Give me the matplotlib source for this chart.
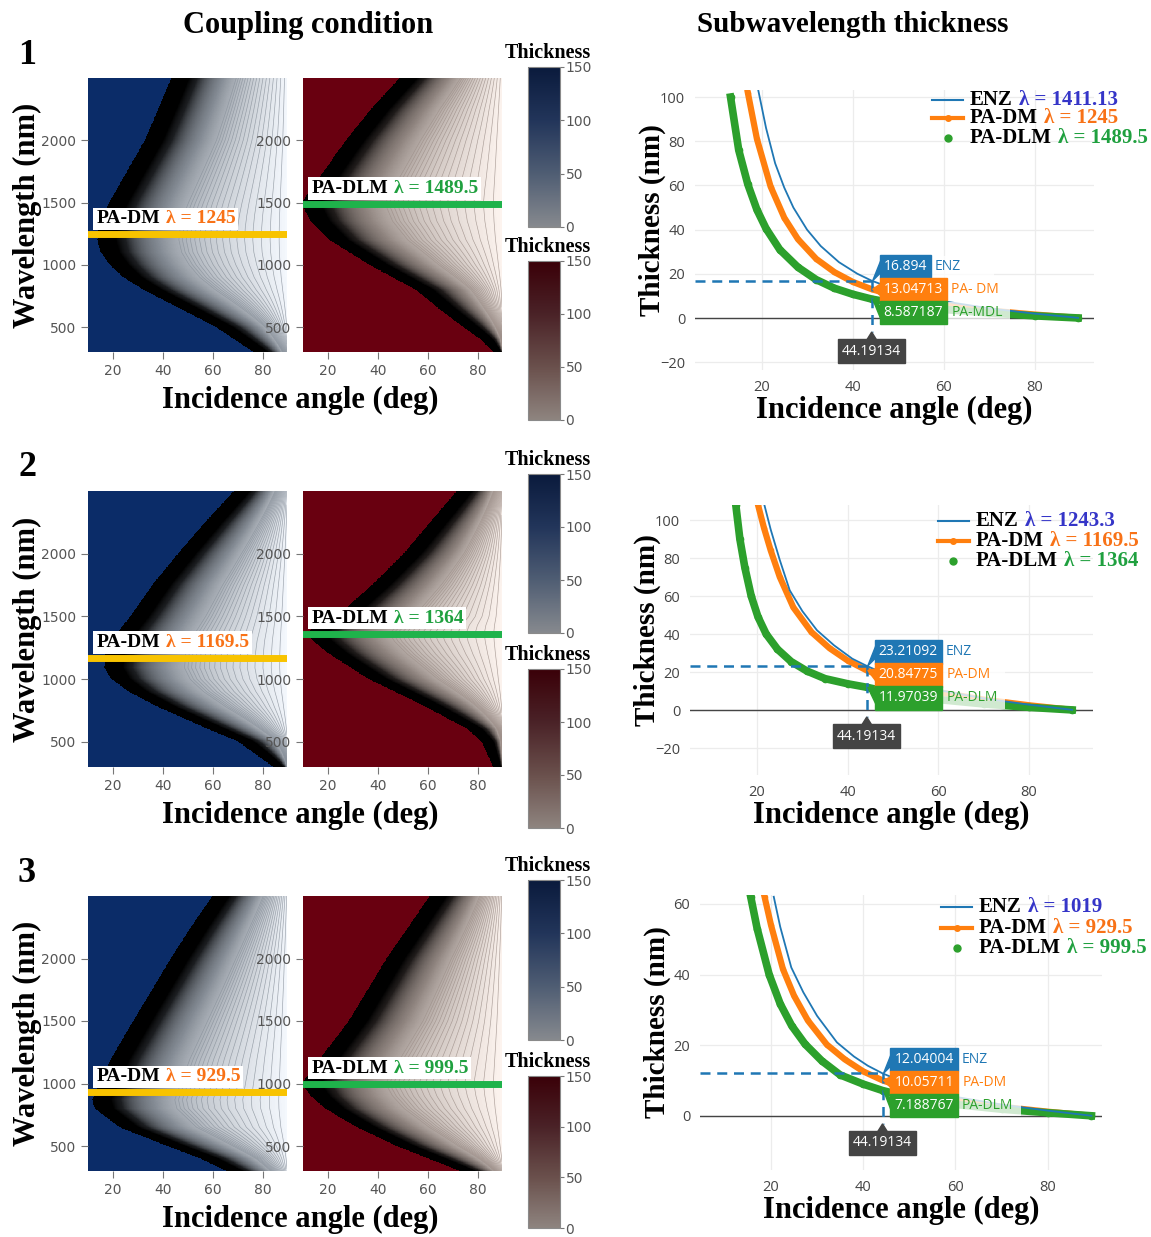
import numpy as np
import matplotlib
matplotlib.use("Agg")
import matplotlib.pyplot as plt
from matplotlib import cm
from matplotlib.colors import LinearSegmentedColormap, Normalize
from matplotlib.lines import Line2D
from matplotlib.patches import Polygon, Rectangle
from matplotlib.transforms import IdentityTransform
from matplotlib.offsetbox import TextArea, HPacker, AnnotationBbox

W, H = 1151, 1237
SERIF = "Liberation Serif"
SANS = "DejaVu Sans"
PSANS = "Open Sans"

# ---------------- data ----------------
enz_lam = [1411.13, 1243.3, 1019]
dm_lam = [1245, 1169.5, 929.5]
dlm_lam = [1489.5, 1364, 999.5]

cross_angle = 44.19134
enz_at = [16.894, 23.21092, 12.04004]
dm_at = [13.04713, 20.84775, 10.05711]
dlm_at = [8.587187, 11.97039, 7.188767]
dm_tag = ["PA- DM", "PA-DM", "PA-DM"]
dlm_tag = ["PA-MDL", "PA-DLM", "PA-DLM"]

# edge of the coupling region on the maps: wavelength (nm) -> angle (deg)
dm_edge_lam1 = [300, 400, 500, 650, 800, 900, 1000, 1100, 1200, 1300, 1400, 1500, 1750, 2000, 2250, 2500]
dm_edge_ang1 = [76, 68.5, 61, 46.5, 32, 24, 18.7, 15, 13.6, 14.3, 16, 18.4, 25.5, 32.6, 38, 43.2]
dlm_edge_lam1 = [300, 400, 500, 650, 800, 1000, 1200, 1350, 1489.5, 1600, 1700, 2000, 2250, 2500]
dlm_edge_ang1 = [86, 81, 74, 64, 55, 36.5, 20.5, 13, 9.3, 12.5, 16.4, 27, 37, 48.5]
dm_edge_lam2 = [300, 500, 600, 775, 900, 1000, 1090, 1200, 1305, 1500, 1750, 2000, 2250, 2500]
dm_edge_ang2 = [84, 70, 58, 38, 26, 19.2, 16.4, 17, 19.2, 27, 35.8, 46.1, 57, 68.6]
dlm_edge_lam2 = [300, 500, 600, 800, 1000, 1200, 1300, 1364, 1430, 1500, 1750, 2000, 2250, 2500]
dlm_edge_ang2 = [86, 81.4, 75.8, 56.8, 36, 20.3, 14, 11.5, 15.5, 23.5, 37.7, 50.4, 61, 71.7]
dm_edge_lam3 = [300, 400, 500, 650, 800, 870, 1000, 1200, 1500, 2000, 2250, 2500]
dm_edge_ang3 = [65, 54.8, 41.4, 22.4, 12.6, 11.6, 14.5, 19.2, 28, 43, 51, 59.6]
dlm_edge_lam3 = [300, 400, 500, 650, 800, 900, 999.5, 1100, 1250, 1500, 2000, 2500]
dlm_edge_ang3 = [72.5, 59.9, 47.2, 31.4, 18.7, 13, 9.5, 13, 18.7, 28.2, 43.3, 60.6]

# thickness vs incidence angle curves
enz_ang1 = [19.3, 21, 23, 25, 27, 30, 33, 37, 41, 44.19134, 50, 60, 70, 80, 89.5]
enz_thk1 = [103, 86, 70, 59, 50, 40, 32.6, 25.3, 20.1, 16.894, 12.5, 7.6, 4.4, 2.0, 0.1]
dm_ang1 = [17, 19, 22, 25, 28, 32, 36, 40, 44.19134, 50, 60, 70, 80, 89.5]
dm_thk1 = [102, 81, 59.5, 45.4, 35.7, 26.8, 20.8, 16.4, 13.04713, 9.7, 5.9, 3.4, 1.6, 0.1]
dlm_ang1 = [13.2, 15, 17, 19, 21, 24, 28, 32, 36, 40, 44.19134, 50, 60, 70, 80, 89.5]
dlm_thk1 = [100, 76, 60.5, 49, 40.5, 31, 23, 17.4, 13.5, 10.8, 8.587187, 6.4, 3.9, 2.3, 1.0, 0.05]

enz_ang2 = [21.6, 23, 25, 27.2, 30, 33.2, 37, 41, 44.19134, 50, 60, 70, 80, 89.5]
enz_thk2 = [108, 95, 79, 63, 52, 42, 34, 27, 23.21092, 17.2, 10.5, 6.1, 2.8, 0.1]
dm_ang2 = [20.2, 21.5, 23, 25, 28, 32, 36, 40, 44.19134, 50, 60, 70, 80, 89.5]
dm_thk2 = [108, 96, 84, 70, 54, 41, 32.5, 26, 20.84775, 15.4, 9.4, 5.5, 2.5, 0.1]
dlm_ang2 = [15.3, 16.2, 17.3, 18.7, 20.2, 22, 24.5, 27.5, 31, 35, 40, 44.19134, 50, 60, 70, 80, 89.5]
dlm_thk2 = [108, 90, 75, 60, 49, 40, 32, 25.5, 20.5, 16.5, 13.8, 11.97039, 9, 5.5, 3.2, 1.4, 0.05]

enz_ang3 = [20.6, 22, 24.4, 27, 30, 34.3, 38, 41, 44.19134, 50, 60, 70, 80, 89.5]
enz_thk3 = [62, 53.5, 42, 35, 28.3, 20.8, 16.8, 14.2, 12.04004, 8.9, 5.4, 3.2, 1.5, 0.05]
dm_ang3 = [18.6, 20, 22.6, 25, 28, 32.1, 36, 40, 44.19134, 50, 60, 70, 80, 89.5]
dm_thk3 = [62, 54, 41.5, 34, 27, 20.2, 16, 12.6, 10.05711, 7.5, 4.6, 2.6, 1.2, 0.06]
dlm_ang3 = [15.6, 17, 19.6, 22, 24.5, 27.4, 31, 35, 40, 44.19134, 50, 60, 70, 80, 89.5]
dlm_thk3 = [62, 53, 40, 31.7, 25.5, 20.3, 15.6, 11.6, 9.0, 7.188767, 5.3, 3.25, 1.9, 0.9, 0.04]

dm_edges = [(dm_edge_lam1, dm_edge_ang1), (dm_edge_lam2, dm_edge_ang2), (dm_edge_lam3, dm_edge_ang3)]
dlm_edges = [(dlm_edge_lam1, dlm_edge_ang1), (dlm_edge_lam2, dlm_edge_ang2), (dlm_edge_lam3, dlm_edge_ang3)]
enz_curves = [(enz_ang1, enz_thk1), (enz_ang2, enz_thk2), (enz_ang3, enz_thk3)]
dm_curves = [(dm_ang1, dm_thk1), (dm_ang2, dm_thk2), (dm_ang3, dm_thk3)]
dlm_curves = [(dlm_ang1, dlm_thk1), (dlm_ang2, dlm_thk2), (dlm_ang3, dlm_thk3)]

# ---------------- layout (pixels of the reference) ----------------
map_rows = [(78, 352), (491, 767), (896, 1171)]
bar_rows = [((528, 67, 560, 227), (528, 261, 560, 420)),
            ((528, 474, 560, 633), (528, 669, 560, 828)),
            ((528, 880, 560, 1040), (528, 1076, 560, 1228))]
right_rects = [(695, 90, 1094, 370), (690, 505, 1093, 775), (700, 895, 1102, 1170)]
right_xlim = [(5.4, 93), (5.2, 94.1), (4.6, 91.8)]
right_ylim = [(-23.5, 103.2), (-34.2, 107.9), (-15.3, 62.5)]
right_yticks = [[-20, 0, 20, 40, 60, 80, 100], [-20, 0, 20, 40, 60, 80, 100], [0, 20, 40, 60]]
legend_y = [(100, 118, 138), (521, 541, 561), (907, 928, 948)]
legend_x = [932, 938, 941]
gray_drop = [33, 26, 27]

C_ENZ, C_DM, C_DLM = "#1f77b4", "#ff7f0e", "#2ca02c"
LAM_ENZ, LAM_DM, LAM_DLM = "#3535c8", "#f87217", "#1fa03f"

fig = plt.figure(figsize=(W / 100, H / 100), dpi=100)
fig.patch.set_facecolor("white")


def rect(x0, y0, x1, y1):
    return [x0 / W, 1 - y1 / H, (x1 - x0) / W, (y1 - y0) / H]


def label(x, y, s, **kw):
    kw.setdefault("family", SERIF)
    kw.setdefault("weight", "bold")
    kw.setdefault("ha", "center")
    kw.setdefault("va", "center")
    return fig.text(x / W, 1 - y / H, s, **kw)


def two_tone(ax, xy, coords, first, second, color, size, boxed, offset=(0, 0)):
    row = HPacker(children=[
        TextArea(first, textprops=dict(color="black", family=SERIF, weight="bold", size=size)),
        TextArea(second, textprops=dict(color=color, family=SERIF, weight="bold", size=size))],
        sep=size * 0.3, pad=0, align="baseline")
    ab = AnnotationBbox(row, xy, xycoords=coords, xybox=offset, boxcoords="offset points",
                        box_alignment=(0, 0) if boxed else (0, 0.5), frameon=boxed, pad=0.2,
                        bboxprops=dict(fc="white", ec="none"), annotation_clip=False, zorder=6)
    ax.add_artist(ab)


# thickness field on the maps
ang_grid = np.linspace(10, 89.5, 480)
lam_grid = np.linspace(300, 2500, 480)
AG, LG = np.meshgrid(ang_grid, lam_grid)


def thickness_map(edge_lam, edge_ang):
    edge = np.interp(lam_grid, edge_lam, edge_ang)[:, None]
    gap = np.sin(np.radians(AG)) - np.sin(np.radians(edge))
    gap = np.where(gap > 0, gap, np.nan)
    return np.ma.masked_invalid(12 * np.cos(np.radians(AG)) / gap)


T_MAX = 90
blue_in = LinearSegmentedColormap.from_list("bi", [(0, "#f4f8fd"), (0.28, "#838a93"),
                                                   (0.65, "#1c1e21"), (1, "#000000")])
red_in = LinearSegmentedColormap.from_list("ri", [(0, "#fdf4ef"), (0.28, "#8e837e"),
                                                  (0.65, "#201c1b"), (1, "#000000")])
for c in (blue_in, red_in):
    c.set_bad((0, 0, 0, 0))
blue_bar = LinearSegmentedColormap.from_list("bb", ["#86898e", "#4f5d73", "#22355a", "#0a1a3c"])
red_bar = LinearSegmentedColormap.from_list("rb", ["#8e847f", "#6a504c", "#4a2227", "#3a0008"])


def draw_map(ax, t, bg, cmap, line_col, mark_lam, mark_col, tag, lam_col):
    ax.set_facecolor(bg)
    ax.imshow(t, extent=[10, 89.5, 300, 2500], origin="lower", aspect="auto",
              cmap=cmap, vmin=0, vmax=T_MAX, interpolation="nearest")
    ax.contour(AG, LG, t, levels=np.arange(1.0, 18, 1.0), colors=line_col,
               linewidths=0.45, alpha=0.85)
    ax.axhline(mark_lam, color=mark_col, lw=5, solid_capstyle="round", zorder=4)
    ax.set_xlim(10, 89.5)
    ax.set_ylim(300, 2500)
    ax.set_xticks([20, 40, 60, 80])
    ax.set_yticks([500, 1000, 1500, 2000])
    ax.tick_params(direction="out", length=5, width=0.8, color="#777777",
                   labelsize=10, labelcolor="#555555")
    for lab in ax.get_xticklabels() + ax.get_yticklabels():
        lab.set_family(SANS)
    for sp in ax.spines.values():
        sp.set_visible(False)
    two_tone(ax, (13.3, mark_lam), "data", tag, "\u03bb = %s" % mark_lam, lam_col, 14,
             True, offset=(0, 5))


renderer = fig.canvas.get_renderer()

for r in range(3):
    top, bot = map_rows[r]
    axb = fig.add_axes(rect(88, top, 287, bot))
    draw_map(axb, thickness_map(*dm_edges[r]), "#0b2c68", blue_in, "#8a929c",
             dm_lam[r], "#f8c300", "PA-DM", LAM_DM)
    axr = fig.add_axes(rect(303, top, 502, bot))
    draw_map(axr, thickness_map(*dlm_edges[r]), "#690010", red_in, "#9e908a",
             dlm_lam[r], "#1fb34b", "PA-DLM", LAM_DLM)

    # colour bars
    for (x0, y0, x1, y1), cmap in zip(bar_rows[r], (blue_bar, red_bar)):
        cax = fig.add_axes(rect(x0, y0, x1, y1))
        cb = fig.colorbar(cm.ScalarMappable(Normalize(0, 150), cmap), cax=cax,
                          ticks=[0, 50, 100, 150])
        cb.outline.set_edgecolor("#8a8a8a")
        cb.outline.set_linewidth(0.8)
        cax.tick_params(labelsize=10, labelcolor="#555555", color="#777777",
                        length=3, width=0.8, pad=1)
        for lab in cax.get_yticklabels():
            lab.set_family(SANS)
        label((x0 + x1) / 2 + 4, y0 - 14, "Thickness", size=14.5)

    label(300, bot + 48, "Incidence angle (deg)", size=22)
    label(27, (top + bot) / 2, "Wavelength (nm)", size=22, rotation=90)
    label(27, top - 23, str(r + 1), size=26)

    # thickness curves
    x0, y0, x1, y1 = right_rects[r]
    ax = fig.add_axes(rect(x0, y0, x1, y1))
    ax.set_xlim(*right_xlim[r])
    ax.set_ylim(*right_ylim[r])
    for sp in ax.spines.values():
        sp.set_visible(False)
    ax.set_xticks([20, 40, 60, 80])
    ax.set_yticks(right_yticks[r])
    ax.grid(True, color="#ececec", lw=0.9)
    ax.set_axisbelow(True)
    ax.axhline(0, color="#444444", lw=1.0, zorder=1.5)
    ax.tick_params(length=0, labelsize=10.5, labelcolor="#444444", pad=7)
    for lab in ax.get_xticklabels() + ax.get_yticklabels():
        lab.set_family(PSANS)
    ax.plot(*dm_curves[r], color=C_DM, lw=4.5, marker="o", ms=3, zorder=2)
    ax.plot(*dlm_curves[r], color=C_DLM, lw=5.5, marker="o", ms=4.5, zorder=3)
    ax.plot(*enz_curves[r], color=C_ENZ, lw=1.3, zorder=4)

    label((x0 + x1) / 2, y1 + 40, "Incidence angle (deg)", size=22)
    label(x0 - 43, (y0 + y1) / 2 - 10, "Thickness (nm)", size=21, rotation=90)

    # hover style labels at the crossing angle
    px, py = ax.transData.transform((cross_angle, enz_at[r]))
    zx, zy = ax.transData.transform((cross_angle, 0))
    gy = zy - gray_drop[r]
    vline_end = ax.transData.inverted().transform((px, gy + 19))[1]
    ax.plot([right_xlim[r][0], cross_angle], [enz_at[r], enz_at[r]], color=C_ENZ,
            lw=1.8, ls=(0, (4, 2.7)), zorder=5)
    ax.plot([cross_angle, cross_angle], [enz_at[r], vline_end], color=C_ENZ,
            lw=1.8, ls=(0, (4, 2.7)), zorder=5, clip_on=False)

    cy0 = py + 14
    items = [(enz_at[r], "ENZ", C_ENZ), (dm_at[r], dm_tag[r], C_DM), (dlm_at[r], dlm_tag[r], C_DLM)]
    for i, (val, name, col) in enumerate(items):
        vx, vy = ax.transData.transform((cross_angle, val))
        cy = cy0 - 23 * i
        bx = px + 8
        fig.add_artist(Polygon([(vx + 1, vy), (bx + 1, cy - 6), (bx + 1, cy + 6)], closed=True,
                               fc=col, ec=col, transform=IdentityTransform(), zorder=3))
        t = fig.text((bx + 4) / W, cy / H, str(val), color="white", size=10, family=PSANS,
                     ha="left", va="center", zorder=4,
                     bbox=dict(boxstyle="square,pad=0.3", fc=col, ec=col))
        ext = t.get_window_extent(renderer)
        nx = ext.x1 + 8
        fig.add_artist(Rectangle((nx - 3, cy - 11), 62, 22, fc="white", ec="none", alpha=0.78,
                                 transform=IdentityTransform(), zorder=2))
        fig.text(nx / W, cy / H, name, color=col, size=10, family=PSANS, ha="left",
                 va="center", zorder=4)

    fig.add_artist(Polygon([(px, gy + 19), (px - 5, gy + 11), (px + 5, gy + 11)], closed=True,
                           fc="#444444", ec="#444444", transform=IdentityTransform(), zorder=3))
    fig.text(px / W, gy / H, "%.5f" % cross_angle, color="white", size=10, family=PSANS,
             ha="center", va="center", zorder=4,
             bbox=dict(boxstyle="square,pad=0.3", fc="#444444", ec="#444444"))

    # legend
    lx = legend_x[r]
    ly = legend_y[r]
    fy = [1 - v / H for v in ly]
    fig.add_artist(Line2D([lx / W, (lx + 31) / W], [fy[0], fy[0]], color=C_ENZ, lw=1.5,
                          transform=fig.transFigure))
    fig.add_artist(Line2D([lx / W, (lx + 15.5) / W, (lx + 31) / W], [fy[1]] * 3, color=C_DM,
                          lw=3, marker="o", ms=4, markevery=[1], transform=fig.transFigure))
    fig.add_artist(Line2D([(lx + 15.5) / W], [fy[2]], color=C_DLM, lw=0, marker="o", ms=5,
                          transform=fig.transFigure))
    entries = [("ENZ", enz_lam[r], LAM_ENZ), ("PA-DM", dm_lam[r], LAM_DM), ("PA-DLM", dlm_lam[r], LAM_DLM)]
    for (nm, lam, col), yy in zip(entries, ly):
        two_tone(ax, (lx + 38, H - yy), "figure pixels", nm, "\u03bb = %s" % lam, col, 15, False)

label(308, 25, "Coupling condition", size=22)
label(853, 25, "Subwavelength thickness", size=21)

fig.savefig("out.png", dpi=100, facecolor="white")
